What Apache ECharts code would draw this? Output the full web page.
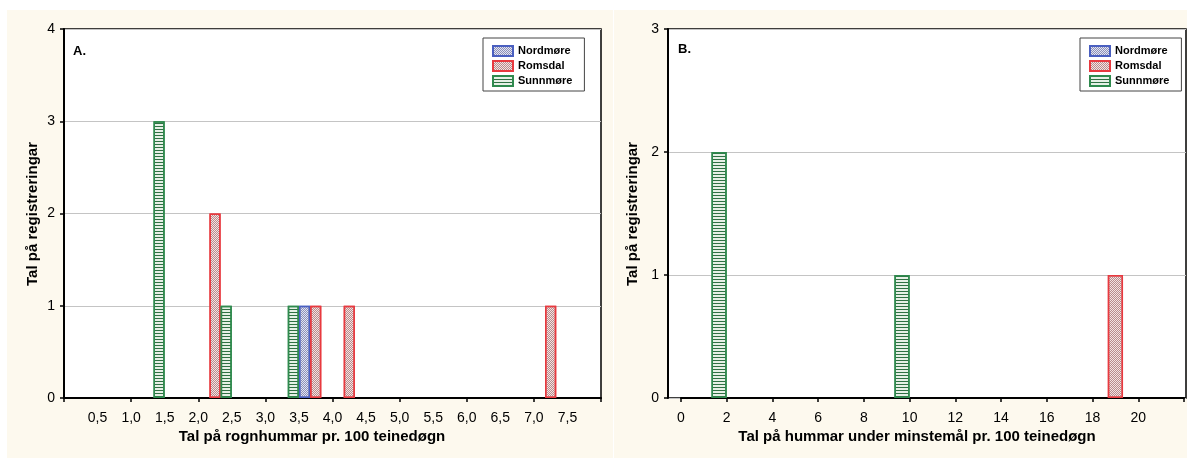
<!DOCTYPE html>
<html>
<head>
<meta charset="utf-8">
<script src="https://cdn.jsdelivr.net/npm/echarts@6/dist/echarts.min.js"></script>
<style>
html,body{margin:0;padding:0;background:#fff;}
#c{width:1187px;height:458px;}
</style>
</head>
<body>
<div id="c"></div>
<script>
// ---- Data ----
const seriesNames = ['Nordmøre', 'Romsdal', 'Sunnmøre'];

// Panel A: bins of 0.5 (Tal på rognhummar pr. 100 teinedøgn)
const binsA = ['0-0,5','0,5-1,0','1,0-1,5','1,5-2,0','2,0-2,5','2,5-3,0','3,0-3,5','3,5-4,0',
               '4,0-4,5','4,5-5,0','5,0-5,5','5,5-6,0','6,0-6,5','6,5-7,0','7,0-7,5','7,5-8,0'];
const nordA = [0,0,0,0,0,0,0,1,0,0,0,0,0,0,0,0];
const romsA = [0,0,0,0,2,0,0,1,1,0,0,0,0,0,1,0];
const sunnA = [0,0,3,0,1,0,1,0,0,0,0,0,0,0,0,0];

// Panel B: bins of 2 (Tal på hummar under minstemål pr. 100 teinedøgn)
const binsB = ['0-2','2-4','4-6','6-8','8-10','10-12','12-14','14-16','16-18','18-20','20-22'];
const nordB = [0,0,0,0,0,0,0,0,0,0,0];
const romsB = [0,0,0,0,0,0,0,0,0,1,0];
const sunnB = [2,0,0,0,1,0,0,0,0,0,0];

const xTitleA = 'Tal på rognhummar pr. 100 teinedøgn';
const xTitleB = 'Tal på hummar under minstemål pr. 100 teinedøgn';
const yTitle = 'Tal på registreringar';

// ---- Styles ----
const FONT = '"Liberation Sans", Arial, sans-serif';
const styles = {
  'Nordmøre': {
    color: '#e2e4f2', borderColor: '#4a5fc0', borderWidth: 1.5,
    decal: { symbol: 'rect', symbolSize: 1, dashArrayX: [[1,1],[0,1,1,0]], dashArrayY: [1,0], color: '#8d90b8' }
  },
  'Romsdal': {
    color: '#f4e2e2', borderColor: '#e8393f', borderWidth: 1.5,
    decal: { symbol: 'rect', symbolSize: 1, dashArrayX: [[1,1],[0,1,1,0]], dashArrayY: [1,0], color: '#b88c8c' }
  },
  'Sunnmøre': {
    color: '#e6f0e6', borderColor: '#2f8a4e', borderWidth: 1.5,
    decal: { symbol: 'rect', symbolSize: 1, dashArrayX: [10,0], dashArrayY: [1,2], color: '#2f7043' }
  }
};
const nz = arr => arr.map(v => v === 0 ? '-' : v);
const fmtComma = v => (v === 0 || v >= 8) ? '' : v.toFixed(1).replace('.', ',');

const axisLabelStyle = { color: '#000', fontSize: 14, fontFamily: FONT };
const lineBlack = { show: true, onZero: false, lineStyle: { color: '#000', width: 2 } };
const tickBlack = { show: true, length: 4, lineStyle: { color: '#000', width: 1.5 } };
const splitGray = { show: true, lineStyle: { color: '#c4c4c4', width: 1.2 } };

function barSeries(name, data, xi, yi) {
  return {
    name: name, type: 'bar', xAxisIndex: xi, yAxisIndex: yi,
    data: nz(data), barGap: '0%', barCategoryGap: '0%',
    itemStyle: styles[name], emphasis: { disabled: true }, animation: false
  };
}

const legendBase = {
  orient: 'vertical', icon: 'rect', itemWidth: 20, itemHeight: 10, itemGap: 3,
  backgroundColor: '#fff', borderColor: '#444', borderWidth: 1, borderRadius: 0,
  padding: [7, 12, 4, 9],
  textStyle: { fontSize: 11, fontWeight: 'bold', fontFamily: FONT, color: '#000', lineHeight: 12 },
  data: seriesNames, selectedMode: false
};

const option = {
  backgroundColor: '#fdf9ee',
  animation: false,
  grid: [
    { left: 64, top: 29, width: 537, height: 369, show: true, backgroundColor: '#fff', borderColor: '#000', borderWidth: 1.5 },
    { left: 668, top: 29, width: 518, height: 369, show: true, backgroundColor: '#fff', borderColor: '#000', borderWidth: 1.5 },
    { left: 681, top: 29, width: 505, height: 369, show: false }
  ],
  xAxis: [
    { gridIndex: 0, type: 'category', data: binsA, show: false },
    { gridIndex: 0, type: 'value', position: 'bottom', min: 0, max: 8, interval: 0.5,
      axisLine: lineBlack, axisTick: { show: false }, splitLine: { show: false },
      axisLabel: Object.assign({ margin: 13, formatter: fmtComma }, axisLabelStyle) },
    { gridIndex: 0, type: 'value', position: 'bottom', min: 0, max: 8, interval: 1,
      axisLine: { show: false }, axisTick: tickBlack, splitLine: { show: false }, axisLabel: { show: false } },
    { gridIndex: 1, type: 'value', min: -0.55, max: 22, show: false, splitLine: { show: false } },
    { gridIndex: 2, type: 'category', data: binsB, show: false },
    { gridIndex: 2, type: 'value', position: 'bottom', min: 0, max: 22, interval: 2,
      axisLine: lineBlack, axisTick: tickBlack, splitLine: { show: false },
      axisLabel: Object.assign({ margin: 13, formatter: v => v >= 22 ? '' : String(v) }, axisLabelStyle) }
  ],
  yAxis: [
    { gridIndex: 0, type: 'value', min: 0, max: 4, interval: 1,
      axisLine: lineBlack, axisTick: tickBlack, splitLine: splitGray,
      axisLabel: Object.assign({ margin: 9 }, axisLabelStyle) },
    { gridIndex: 1, type: 'value', min: 0, max: 3, interval: 1,
      axisLine: lineBlack, axisTick: tickBlack, splitLine: splitGray,
      axisLabel: Object.assign({ margin: 9 }, axisLabelStyle) },
    { gridIndex: 2, type: 'value', min: 0, max: 3, interval: 1, show: false, splitLine: { show: false } }
  ],
  legend: [
    Object.assign({ left: 483, top: 38 }, legendBase),
    Object.assign({ left: 1080, top: 38 }, legendBase)
  ],
  graphic: [
    { type: 'rect', shape: { x: 0, y: 0, width: 1187, height: 10 }, style: { fill: '#fff' }, silent: true },
    { type: 'rect', shape: { x: 0, y: 0, width: 7, height: 458 }, style: { fill: '#fff' }, silent: true },
    { type: 'rect', shape: { x: 613, y: 0, width: 1, height: 458 }, style: { fill: '#fff' }, silent: true },
    { type: 'text', x: 73, y: 51, style: { text: 'A.', font: 'bold 13px ' + FONT, fill: '#000', textVerticalAlign: 'middle' } },
    { type: 'text', x: 678, y: 49, style: { text: 'B.', font: 'bold 13px ' + FONT, fill: '#000', textVerticalAlign: 'middle' } },
    { type: 'text', x: 312, y: 437, style: { text: xTitleA, font: 'bold 15px ' + FONT, fill: '#000', textAlign: 'center', textVerticalAlign: 'middle' } },
    { type: 'text', x: 917, y: 437, style: { text: xTitleB, font: 'bold 15px ' + FONT, fill: '#000', textAlign: 'center', textVerticalAlign: 'middle' } },
    { type: 'text', x: 33, y: 214, rotation: Math.PI / 2, style: { text: yTitle, font: 'bold 15px ' + FONT, fill: '#000', textAlign: 'center', textVerticalAlign: 'middle' } },
    { type: 'text', x: 633, y: 214, rotation: Math.PI / 2, style: { text: yTitle, font: 'bold 15px ' + FONT, fill: '#000', textAlign: 'center', textVerticalAlign: 'middle' } }
  ],
  series: [
    barSeries('Nordmøre', nordA, 0, 0),
    barSeries('Romsdal', romsA, 0, 0),
    barSeries('Sunnmøre', sunnA, 0, 0),
    barSeries('Nordmøre', nordB, 4, 2),
    barSeries('Romsdal', romsB, 4, 2),
    barSeries('Sunnmøre', sunnB, 4, 2)
  ]
};

const chart = echarts.init(document.getElementById('c'), null, { renderer: 'canvas' });
chart.setOption(option);
</script>
</body>
</html>
